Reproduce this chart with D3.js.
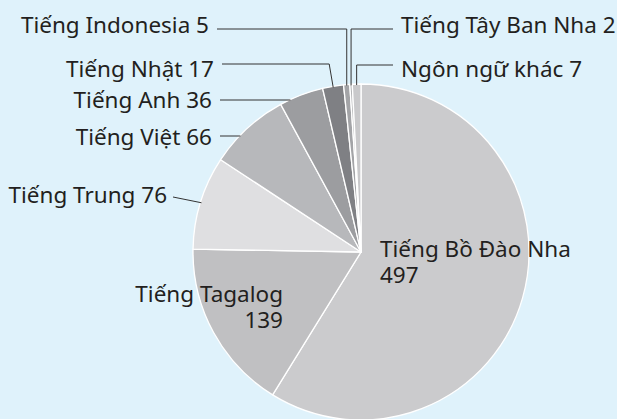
<!DOCTYPE html>
<html><head><meta charset="utf-8">
<script src="https://cdn.jsdelivr.net/npm/d3@7/dist/d3.min.js"></script>
<style>
html,body{margin:0;padding:0;background:#dff2fb;}
svg{display:block;}
text{font-family:"Noto Sans",sans-serif;fill:#231f20;}
</style></head>
<body><svg id="c" width="617" height="419"></svg>
<script>
const categories = ["Tiếng Bồ Đào Nha","Tiếng Tagalog","Tiếng Trung","Tiếng Việt","Tiếng Anh","Tiếng Nhật","Tiếng Indonesia","Tiếng Tây Ban Nha","Ngôn ngữ khác"];
const values = [497,139,76,66,36,17,5,2,7];
const colors = ["#cbcbcd","#c0c0c2","#dfdfe1","#b7b8bb","#9c9da0","#7f8084","#a3a4a7","#b5b6b8","#c9c9cb"];

const W=617,H=419, cx=361, cy=252, R=168;
const svg=d3.select("#c");
svg.append("rect").attr("width",W).attr("height",H).attr("fill","#dff2fb");
const g=svg.append("g").attr("transform",`translate(${cx},${cy})`);
const data=categories.map((c,i)=>({name:c,value:values[i],color:colors[i]}));
const pie=d3.pie().value(d=>d.value).sort(null);
const arcs=pie(data);
const arc=d3.arc().innerRadius(0).outerRadius(R);
g.selectAll("path").data(arcs).join("path")
  .attr("d",arc).attr("fill",d=>d.data.color)
  .attr("stroke","#fff").attr("stroke-width",1.3).attr("stroke-linejoin","round");

function edge(a,r=R){const m=(a.startAngle+a.endAngle)/2;return [cx+r*Math.sin(m),cy-r*Math.cos(m)];}
function circX(y){return cx-Math.sqrt(R*R-(y-cy)*(y-cy));}

const fs=22.5;
const lines=svg.append("g").attr("fill","none").attr("stroke","#333").attr("stroke-width",1);
const labels=svg.append("g").attr("font-size",fs);

// layout: [index, anchor, textX, baseline, lineY, lineStartX, type]
const layout=[
  [6,"end",209,33,29,217,"vert"],
  [7,"start",401,33,29,393,"vert"],
  [5,"end",214,77,64,222,"bend"],
  [8,"start",401,77,65,393,"vert"],
  [4,"end",212,108,100,220,"horiz"],
  [3,"end",212,145,136,220,"horiz"],
  [2,"end",167,203,197,173,"diag"]
];
layout.forEach(([i,anchor,tx,ty,ly,lx,type])=>{
  const a=arcs[i]; const [ex,ey]=edge(a,R-1);
  let pts;
  if(type==="vert") pts=[[lx,ly],[ex,ly],[ex,ey]];
  else if(type==="bend") pts=[[lx,ly],[ex-4,ly],[ex,ey]];
  else if(type==="horiz") pts=[[lx,ly],[circX(ly)+1,ly]];
  else pts=[[lx,ly],[ex,ey]];
  lines.append("path").attr("d",d3.line()(pts));
  labels.append("text").attr("x",tx).attr("y",ty).attr("text-anchor",anchor)
    .text(`${categories[i]} ${values[i]}`);
});

// two-line inside labels, one text element each
[[0,"start",380,257],[1,"end",283,302]].forEach(([i,anchor,x,y])=>{
  const t=labels.append("text").attr("x",x).attr("y",y).attr("text-anchor",anchor);
  t.append("tspan").attr("x",x).text(categories[i]);
  t.append("tspan").attr("x",x).attr("dy",26).text(values[i]);
});
</script></body></html>
